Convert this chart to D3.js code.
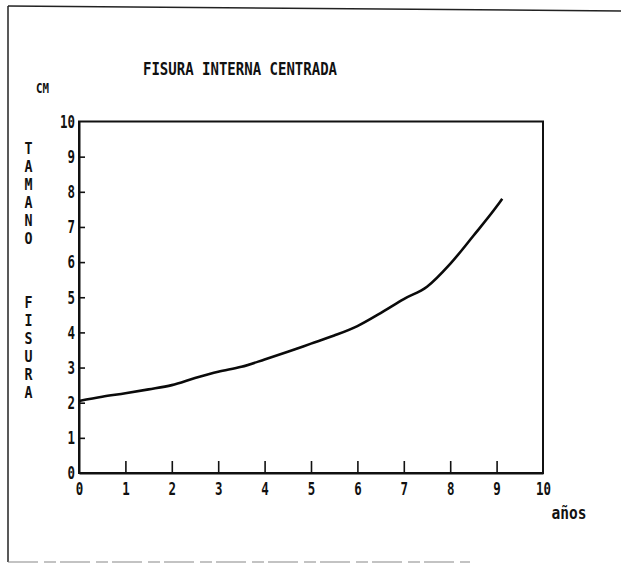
<!DOCTYPE html>
<html>
<head>
<meta charset="utf-8">
<script src="https://cdn.jsdelivr.net/npm/d3@7"></script>
<style>
  body { margin: 0; background: #fff; }
  text { font-family: "DejaVu Sans Mono", monospace; font-weight: bold; fill: #111; }
</style>
</head>
<body>
<svg id="chart"></svg>
<script>
// data (años vs cm)
const years = [0, 0.5, 1, 1.5, 2, 2.5, 3, 3.5, 4, 4.5, 5, 5.5, 6, 6.5, 7, 7.5, 8, 8.5, 9, 9.12];
const sizes = [2.05, 2.17, 2.27, 2.38, 2.5, 2.7, 2.88, 3.02, 3.23, 3.45, 3.68, 3.91, 4.18, 4.55, 4.95, 5.3, 5.95, 6.75, 7.58, 7.8];
const xTicks = [0, 1, 2, 3, 4, 5, 6, 7, 8, 9, 10];
const yTicks = [0, 1, 2, 3, 4, 5, 6, 7, 8, 9, 10];
const titleText = 'FISURA INTERNA CENTRADA';
const yWords = ['TAMANO', 'FISURA'];

const width = 621, height = 564;
const svg = d3.select('#chart')
  .attr('width', width)
  .attr('height', height);

// frame of the scanned page
svg.append('line').attr('x1', 8).attr('y1', 6).attr('x2', 8).attr('y2', 562)
  .attr('stroke', '#222').attr('stroke-width', 1.5);
svg.append('line').attr('x1', 8).attr('y1', 6).attr('x2', 621).attr('y2', 11)
  .attr('stroke', '#222').attr('stroke-width', 1.5);
svg.append('line').attr('x1', 8).attr('y1', 562).attr('x2', 470).attr('y2', 562)
  .attr('stroke', '#888').attr('stroke-width', 1.2).attr('stroke-dasharray', '30 6 12 4');

// scales
const x = d3.scaleLinear().domain([0, 10]).range([79, 543]);
const y = d3.scaleLinear().domain([0, 10]).range([473, 121.5]);

// plot box
svg.append('rect')
  .attr('x', x(0)).attr('y', y(10))
  .attr('width', x(10) - x(0)).attr('height', y(0) - y(10))
  .attr('fill', 'none').attr('stroke', '#111').attr('stroke-width', 2);

const fit = (sel, w) => sel.attr('textLength', d => String(d).length * w).attr('lengthAdjust', 'spacingAndGlyphs');

// x axis, ticks pointing inward
const xAxis = d3.axisBottom(x).tickValues(xTicks).tickSize(-12).tickSizeOuter(0).tickPadding(9);
const gx = svg.append('g').attr('transform', `translate(0,${y(0)})`).call(xAxis);
gx.select('.domain').attr('stroke', '#111').attr('stroke-width', 2);
gx.selectAll('.tick line').attr('stroke', '#111').attr('stroke-width', 1.6)
  .filter(d => d === 0 || d === 10).remove();
gx.selectAll('.tick text').attr('font-size', 18).attr('font-family', null).call(fit, 7.5);

// y axis
const yAxis = d3.axisLeft(y).tickValues(yTicks).tickSize(-6).tickSizeOuter(0).tickPadding(4);
const gy = svg.append('g').attr('transform', `translate(${x(0)},0)`).call(yAxis);
gy.select('.domain').attr('stroke', '#111').attr('stroke-width', 2);
gy.selectAll('.tick line').attr('stroke', '#111').attr('stroke-width', 1.6)
  .filter(d => d === 0 || d === 10).remove();
gy.selectAll('.tick text').attr('font-size', 18).attr('font-family', null).call(fit, 7.5);

// crack size curve
const line = d3.line()
  .x((d, i) => x(years[i]))
  .y(d => y(d))
  .curve(d3.curveMonotoneX);
svg.append('path')
  .datum(sizes)
  .attr('d', line)
  .attr('fill', 'none')
  .attr('stroke', '#0a0a0a')
  .attr('stroke-width', 2.6)
  .attr('stroke-linejoin', 'round');

// title + units
svg.append('text').attr('x', 240).attr('y', 75).attr('text-anchor', 'middle')
  .attr('font-size', 17).attr('textLength', 194).attr('lengthAdjust', 'spacingAndGlyphs')
  .text(titleText);
svg.append('text').attr('x', 36).attr('y', 93).attr('font-size', 14)
  .attr('textLength', 13).attr('lengthAdjust', 'spacingAndGlyphs').text('CM');
svg.append('text').attr('x', 569).attr('y', 519).attr('text-anchor', 'middle')
  .attr('font-size', 18).attr('textLength', 35).attr('lengthAdjust', 'spacingAndGlyphs').text('años');

// stacked vertical axis label
const wordStart = [148.5, 302.5];
yWords.forEach((w, k) => {
  svg.append('g').selectAll('text')
    .data(w.split(''))
    .enter().append('text')
      .attr('x', 28.5)
      .attr('y', (c, i) => wordStart[k] + i * 17.9)
      .attr('dy', '0.35em')
      .attr('text-anchor', 'middle')
      .attr('font-size', 16)
      .attr('textLength', 8).attr('lengthAdjust', 'spacingAndGlyphs')
      .text(c => c);
});
</script>
</body>
</html>
